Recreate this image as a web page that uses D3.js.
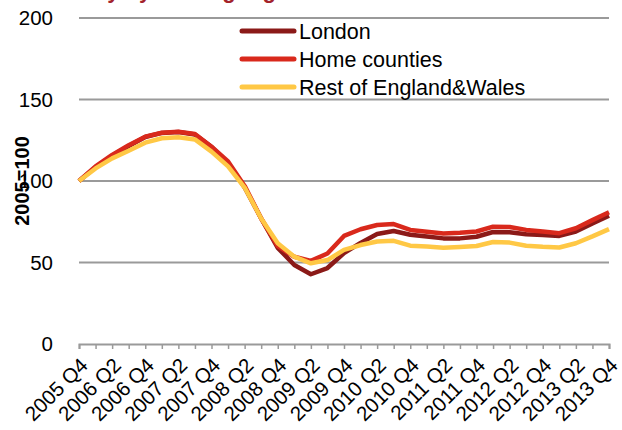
<!DOCTYPE html>
<html>
<head>
<meta charset="utf-8">
<script src="https://cdn.jsdelivr.net/npm/d3@7"></script>
<style>
  body { margin: 0; background: #fff; }
  svg { display: block; font-family: "Liberation Sans", Arial, sans-serif; }
</style>
</head>
<body>
<div id="chart"></div>
<script>
// quarters 2005 Q4 .. 2013 Q4
const quarters = [];
for (let y = 2005, q = 4; y < 2013 || (y === 2013 && q <= 4); ) {
    quarters.push(`${y} Q${q}`);
    q++;
    if (q > 4) { q = 1; y++; }
}

const seriesNames = ["London", "Home counties", "Rest of England&Wales"];

const london = [100, 108.5, 115.5, 121.5, 127, 129.5, 130, 128.5, 121, 111, 96, 77, 59, 48.5, 42.8, 46.6,
    55.8, 62, 67.5, 69.3, 67, 66, 64.8, 64.8, 65.8, 68.7, 68.5, 67.3, 66.8, 66.3, 69, 74, 78.7];
const homeCounties = [100, 109, 116, 122, 127.2, 129.6, 130.2, 128.8, 121, 112, 97, 77, 60, 53.5, 51, 55.5,
    66.3, 70.4, 73, 73.6, 70, 68.9, 67.8, 68.2, 69, 72, 71.8, 70, 69, 68, 71, 76, 80.8];
const restEW = [100, 107.7, 113.9, 118.6, 123.5, 126.2, 126.8, 125.5, 118, 109, 96, 77, 61.8, 53.6, 49.5, 51.5,
    57.7, 60.7, 62.9, 63.3, 60.3, 59.8, 59.1, 59.5, 60.1, 62.6, 62.2, 60.3, 59.6, 59.2, 61.8, 66, 70.5];

const yTicks = [0, 50, 100, 150, 200];
const colors = ["#8b1a18", "#d9291c", "#ffc845"];

const margin = { top: 18, right: 13, bottom: 86, left: 79 };
const width = 622 - margin.left - margin.right;
const height = 430 - margin.top - margin.bottom;

const svg = d3.select("#chart").append("svg")
    .attr("width", 622)
    .attr("height", 430);

// title sits above the frame, only its descenders show
svg.append("text")
    .attr("x", 40)
    .attr("y", -2)
    .style("font-size", "22px")
    .style("font-weight", "bold")
    .style("fill", "#a3232b")
    .text("Activity by lending region");

const g = svg.append("g")
    .attr("transform", `translate(${margin.left},${margin.top})`);

const x = d3.scalePoint()
    .domain(quarters)
    .range([0, width]);

const y = d3.scaleLinear()
    .domain([0, 200])
    .range([height, 0]);

// gridlines
g.append("g")
    .selectAll("line")
    .data(yTicks.filter(d => d > 0))
    .join("line")
    .attr("x1", 0)
    .attr("x2", width)
    .attr("y1", d => y(d))
    .attr("y2", d => y(d))
    .style("stroke", "#9a9a9a")
    .style("stroke-width", 2);

// y axis labels
const yAxis = g.append("g")
    .call(d3.axisLeft(y).tickValues(yTicks).tickSize(0).tickPadding(26));
yAxis.select(".domain").remove();
yAxis.selectAll("text")
    .style("font-size", "20.5px")
    .style("fill", "#000");

// x axis
const xAxis = g.append("g")
    .attr("transform", `translate(0,${height})`)
    .call(d3.axisBottom(x).tickSize(5).tickFormat((d, i) => i % 2 === 0 ? d : ""));
xAxis.select(".domain")
    .style("stroke", "#9a9a9a")
    .style("stroke-width", 2);
xAxis.selectAll(".tick line")
    .style("stroke", "#9a9a9a")
    .style("stroke-width", 1.5);
xAxis.selectAll("text")
    .style("font-size", "20.5px")
    .style("fill", "#000")
    .attr("text-anchor", "end")
    .attr("dx", "0")
    .attr("dy", "0")
    .attr("transform", "translate(4,17) rotate(-45)");

// y axis title
svg.append("text")
    .attr("transform", `translate(29,${margin.top + y(100)}) rotate(-90)`)
    .attr("text-anchor", "middle")
    .style("font-size", "20px")
    .style("font-weight", "bold")
    .text("2005=100");

// lines
const lineGen = d3.line()
    .x((d, i) => x(quarters[i]))
    .y(d => y(d));

[london, homeCounties, restEW].forEach((vals, k) => {
    g.append("path")
        .datum(vals)
        .attr("d", lineGen)
        .style("fill", "none")
        .style("stroke", colors[k])
        .style("stroke-width", 4.5)
        .style("stroke-linejoin", "round");
});

// legend
const legend = svg.append("g")
    .attr("transform", "translate(240,31)");

seriesNames.forEach((name, k) => {
    const row = legend.append("g")
        .attr("transform", `translate(0,${k * 28})`);
    row.append("line")
        .attr("x1", 2)
        .attr("x2", 54)
        .style("stroke", colors[k])
        .style("stroke-width", 5)
        .style("stroke-linecap", "round");
    row.append("text")
        .attr("x", 59)
        .attr("dy", "0.35em")
        .style("font-size", "21.5px")
        .text(name);
});
</script>
</body>
</html>
